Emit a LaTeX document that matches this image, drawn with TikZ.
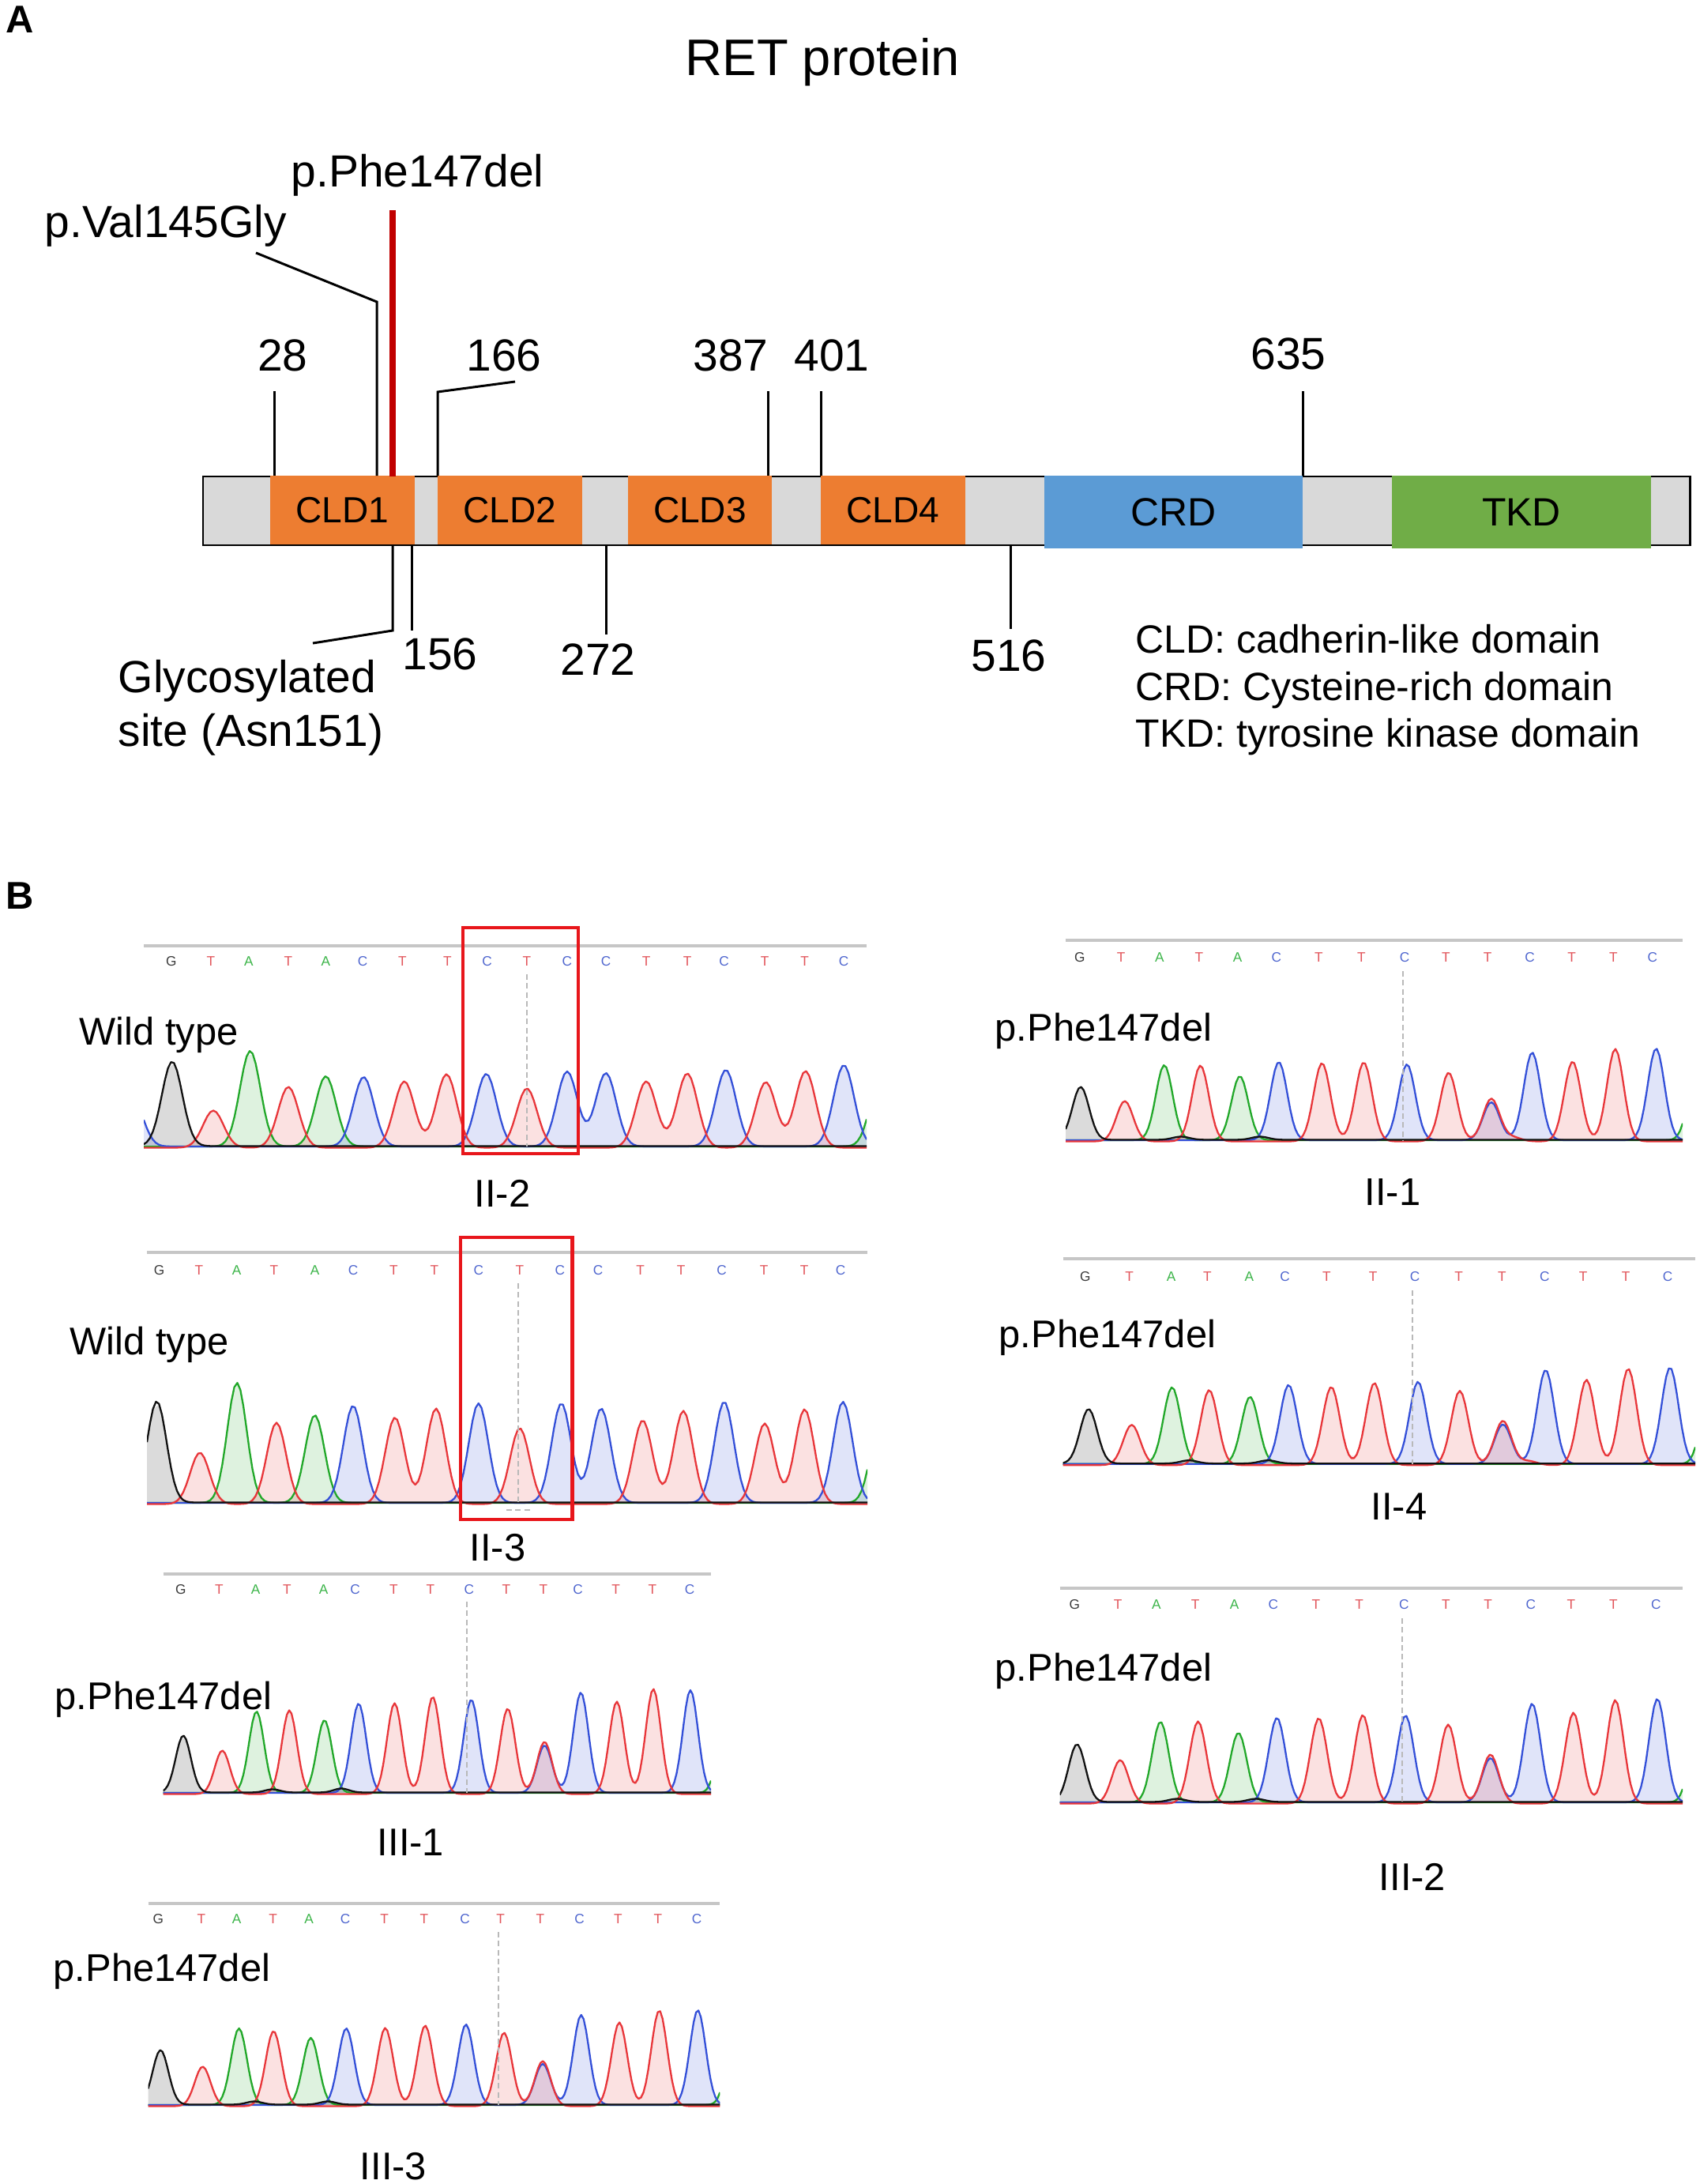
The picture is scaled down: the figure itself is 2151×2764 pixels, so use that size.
\documentclass[tikz,border=0pt]{standalone}
\usepackage{fontspec}
\setmainfont{Liberation Sans}
\definecolor{domorange}{HTML}{ED7D31}
\definecolor{domblue}{HTML}{5B9BD5}
\definecolor{domgreen}{HTML}{70AD47}
\definecolor{bargray}{HTML}{D9D9D9}
\definecolor{mutred}{HTML}{C00000}
\definecolor{boxred}{HTML}{E8161B}
\definecolor{colA}{HTML}{22A82A}
\definecolor{colC}{HTML}{3450D8}
\definecolor{colG}{HTML}{111111}
\definecolor{colT}{HTML}{E8363A}
\definecolor{letA}{HTML}{3DB54A}
\definecolor{letC}{HTML}{4F66CF}
\definecolor{letG}{HTML}{3A3A3A}
\definecolor{letT}{HTML}{E2545A}
\tikzset{
  lab/.style={font=\fontsize{16.2pt}{19pt}\selectfont, inner sep=0pt},
  ttl/.style={font=\fontsize{18.5pt}{22pt}\selectfont, inner sep=0pt, anchor=base west},
  dom/.style={font=\fontsize{13.1pt}{15pt}\selectfont, inner sep=0pt},
  domb/.style={font=\fontsize{14.2pt}{17pt}\selectfont, inner sep=0pt},
  leg/.style={font=\fontsize{14.2pt}{17pt}\selectfont, anchor=base west, inner sep=0pt},
  plab/.style={font=\bfseries\fontsize{13.9pt}{16pt}\selectfont, anchor=base west, inner sep=0pt},
  slab/.style={font=\fontsize{13.9pt}{16pt}\selectfont, anchor=base, inner sep=0pt},
  mlab/.style={font=\fontsize{13.9pt}{16pt}\selectfont, anchor=base west, inner sep=0pt},
  baselet/.style={font=\fontsize{4.9pt}{5pt}\selectfont, anchor=base, inner sep=0pt},
  topline/.style={draw=gray!45, line width=0.9pt},
  trace/.style={line width=0.65pt, line join=round},
  leader/.style={draw=black, line width=0.85pt},
  cursor/.style={draw=gray!55, line width=0.45pt, dash pattern=on 2pt off 1.2pt},
  redbox/.style={draw=boxred, line width=1.4pt}
}
\newcommand\chromo[8]{%
  \draw[topline] (#1,#3) -- (#2,#3);
  \foreach \lx/\lc in {#7}{\node[baselet, text=let\lc] at (\lx,#4) {\lc};}
  \gdef\trA{0}\gdef\trC{0}\gdef\trG{0}\gdef\trT{0}%
  \foreach \px/\ph/\pc in {#8}{%
    \expandafter\xdef\csname tr\pc\endcsname{\unexpanded\expandafter\expandafter\expandafter{\csname tr\pc\endcsname}+\ph*exp(-0.5*min(abs((\noexpand\x-\px)/#6),4.5)^2)}%
  }%
  \begin{scope}
    \clip (#1,#3) rectangle (#2,#5+8);
    \foreach \tc in {A,C,T,G}{%
      \expandafter\let\expandafter\curexpr\csname tr\tc\endcsname
      \fill[fill=col\tc, fill opacity=0.15] plot[domain=#1:#2, samples=120] (\x,{#5-(\curexpr)}) -- (#2,#5) -- (#1,#5) -- cycle;
    }
    \foreach \tc/\off in {A/0,C/0,T/1.5,G/-0.5}{%
      \expandafter\let\expandafter\curexpr\csname tr\tc\endcsname
      \draw[trace, draw=col\tc] plot[domain=#1:#2, samples=240] (\x,{#5+\off-(\curexpr)});
    }
  \end{scope}
}
\begin{document}
\begin{tikzpicture}[x=0.01cm, y=-0.01cm]
\useasboundingbox (0,0) rectangle (2151,2764);
\fill[white] (0,0) rectangle (2151,2764);

% ---------------- Panel A ----------------
\node[plab] (lblA) at (7,42) {A};
\node[ttl] (title) at (867,96) {RET protein};
\node[lab, anchor=base west] (phe) at (368,237) {p.Phe147del};
\node[lab, anchor=base west] (val) at (56,301) {p.Val145Gly};

% bar
\draw[line width=0.85pt, fill=bargray] (257,603) rectangle (2139,690);
\fill[domorange] (342,601.5) rectangle (525,688.5);
\fill[domorange] (554,601.5) rectangle (737,688.5);
\fill[domorange] (795,601.5) rectangle (977,688.5);
\fill[domorange] (1039,601.5) rectangle (1222,688.5);
\fill[domblue] (1322,601.5) rectangle (1649,694);
\fill[domgreen] (1762,601.5) rectangle (2090,694);
\node[dom] (cld1) at (433.5,646) {CLD1};
\node[dom] (cld2) at (645.5,646) {CLD2};
\node[dom] (cld3) at (886,646) {CLD3};
\node[dom] (cld4) at (1130.5,646) {CLD4};
\node[domb] (crd) at (1485.5,648) {CRD};
\node[domb] (tkd) at (1926,648) {TKD};

% upper ticks
\node[lab, anchor=base] (n28) at (358,469) {28};
\node[lab, anchor=base] (n166) at (638,469) {166};
\node[lab, anchor=base] (n387) at (925,469) {387};
\node[lab, anchor=base] (n401) at (1053,469) {401};
\node[lab, anchor=base] (n635) at (1631,467) {635};
\draw[leader] (347,495) -- (347,602);
\draw[leader] (324,320) -- (477,382) -- (477,602);
\draw[leader] (652,483) -- (554,496) -- (554,602);
\draw[leader] (972,495) -- (972,602);
\draw[leader] (1039,495) -- (1039,602);
\draw[leader] (1649,495) -- (1649,602);
\draw[draw=mutred, line width=2.3pt] (497,266) -- (497,603);

% lower ticks
\draw[leader] (497,691) -- (497,798) -- (396,814);
\draw[leader] (521,691) -- (521,798);
\draw[leader] (767,691) -- (767,803);
\draw[leader] (1279,691) -- (1279,796);
\node[lab, anchor=base] (n156) at (557,847) {156};
\node[lab, anchor=base] (n272) at (757,854) {272};
\node[lab, anchor=base] (n516) at (1277,849) {516};
\node[lab, anchor=base west] (gly1) at (149,876) {Glycosylated};
\node[lab, anchor=base west] (gly2) at (149,944) {site (Asn151)};

% legend
\node[leg] (leg1) at (1437,826) {CLD: cadherin-like domain};
\node[leg] (leg2) at (1437,886) {CRD: Cysteine-rich domain};
\node[leg] (leg3) at (1437,945) {TKD: tyrosine kinase domain};

% ---------------- Panel B ----------------
\node[plab] (lblB) at (7,1150) {B};

% II-2 wild type
\chromo{182}{1097}{1197}{1222}{1451}{13}{216.7/G,267/T,314.8/A,365/T,412.4/A,459/C,509.4/T,566.4/T,616.7/C,667/T,717.9/C,767/C,818/T,870/T,916.7/C,968/T,1018.5/T,1068/C}{168/60/C,217.9/107/G,270/47/T,316.7/121/A,365/77/T,412.4/89/A,460.3/88/C,511.8/84/T,565.2/93/T,615.5/92/C,667/75/T,717.9/95/C,767/93/C,818/84/T,870/94/T,918.8/97/C,969.4/83/T,1019.7/97/T,1068.2/103/C,1115/90/A}
\draw[cursor] (667,1233) -- (667,1451);
\node[mlab] (wt1) at (100,1322) {Wild type};
\node[slab] (s22) at (636,1527) {II-2};
\draw[redbox] (586,1174) rectangle (732,1460);

% II-3 wild type
\chromo{186}{1098}{1585}{1613}{1902}{12.3}{201.5/G,251.8/T,299.7/A,347/T,398.5/A,447/C,498.5/T,550/T,605.8/C,658/T,708.8/C,757/C,810.6/T,862/T,913.6/C,967/T,1018/T,1064/C}{198.5/128/G,253/65/T,300/152/A,350/103/T,398.5/111/A,447/123/C,500/109.5/T,552/121/T,605.8/126/C,658/96/T,710.6/126/C,761/119.5/C,813.6/106/T,865/118/T,916.7/128/C,968/102/T,1018.5/120/T,1067/128/C,1115/110/A}
\draw[cursor] (656,1624) -- (656,1902);
\draw[cursor] (641,1911) -- (671,1911);
\node[mlab] (wt2) at (88,1714) {Wild type};
\node[slab] (s23) at (630,1975) {II-3};
\draw[redbox] (583,1566) rectangle (724.5,1923);

% III-1
\chromo{206.5}{900}{1992}{2017}{2269}{9.6}{228.7/G,277.5/T,323.6/A,363.5/T,409.6/A,449.6/C,498.4/T,545/T,593.8/C,641/T,688/T,731.5/C,779.7/T,825.8/T,873/C}{232/72/G,281.4/55/T,324.7/103/A,366.3/106/T,410.7/92/A,454/113/C,499.5/115/T,547.8/123/T,596.6/118/C,642.7/108/T,689.3/66/T,689.3/60/C,735.3/127/C,780.8/117/T,827/133/T,874/130/C,918/90/A,345/4/G,432/5/G}
\draw[cursor] (591,2027) -- (591,2269);
\node[mlab] (m31) at (69,2163) {p.Phe147del};
\node[slab] (s31) at (520,2348) {III-1};

% III-3
\chromo{187.5}{911.4}{2409}{2434}{2664}{10}{200.4/G,254.8/T,299.7/A,345.7/T,391.2/A,437.2/C,486.6/T,537/T,588.7/C,633.6/T,684/T,733.5/C,782.3/T,832.8/T,882.2/C}{203.2/69/G,256.5/50/T,302.5/97/A,346.3/95/T,393.4/85/A,438.3/97/C,487.7/99/T,538.2/102/T,589.8/102/C,638/93/T,687/57/T,687/52/C,735.7/114/C,784/106/T,834.5/121/T,883.3/120/C,930/90/A,322/4/G,415/4/G}
\draw[cursor] (630.8,2445) -- (630.8,2664);
\node[mlab] (m33) at (67,2507) {p.Phe147del};
\node[slab] (s33) at (498,2758) {III-3};

% II-1
\chromo{1349}{2130}{1190}{1217}{1443}{10.6}{1366.9/G,1419/T,1467.9/A,1517.8/T,1566.6/A,1615.9/C,1669.4/T,1723.4/T,1778/C,1830.3/T,1883/T,1936.6/C,1989.5/T,2042.3/T,2091.7/C}{1368/67/G,1423.8/51/T,1473.8/95/A,1519.6/96/T,1569.5/81/A,1618.8/99/C,1673.5/99/T,1726.3/100/T,1781/96/C,1833.8/87/T,1887.8/54/T,1887.8/48/C,1939.5/111/C,1990.7/101/T,2044.7/117/T,2096.4/116/C,2148/90/A,1495/4/G,1595/4/G,1915/5/T}
\draw[cursor] (1776,1229) -- (1776,1443);
\node[mlab] (m21) at (1259,1317) {p.Phe147del};
\node[slab] (s21) at (1763,1525) {II-1};

% II-4
\chromo{1345.7}{2146}{1593}{1621}{1852.7}{10.8}{1373.9/G,1429.7/T,1482.6/A,1528.4/T,1581.3/A,1626.5/C,1679.3/T,1738/T,1791/C,1846.7/T,1901.4/T,1955.4/C,2004.2/T,2058.2/T,2111/C}{1378/69/G,1432.6/51/T,1483.7/97/A,1530.7/95/T,1582.4/85/A,1631.2/100/C,1685.2/99/T,1739.8/104/T,1795/104/C,1847.9/94/T,1902.5/56/T,1902.5/50/C,1956.6/119/C,2008.3/108/T,2061.1/122/T,2114/122/C,2165/100/A,1505/4/G,1605/4/G,1935/5/T}
\draw[cursor] (1788,1633) -- (1788,1853);
\node[mlab] (m24) at (1264,1705) {p.Phe147del};
\node[slab] (s24) at (1771,1923) {II-4};

% III-2
\chromo{1341.6}{2130}{2010}{2036}{2281}{10.6}{1360.4/G,1415/T,1463.8/A,1513/T,1562.5/A,1611.8/C,1665.8/T,1720.5/T,1777.4/C,1830.3/T,1883.7/T,1937.8/C,1988.9/T,2042.3/T,2096.4/C}{1363.3/73/G,1418/55/T,1469/102/A,1516.6/104/T,1567.7/88/A,1616.5/107/C,1669.4/108/T,1725.2/112/T,1779.2/110/C,1833.2/100/T,1886.7/62/T,1886.7/56/C,1939.5/125/C,1991.8/115/T,2044.7/131/T,2098/131/C,2150/100/A,1490/4/G,1590/4/G}
\draw[cursor] (1775,2048) -- (1775,2281);
\node[mlab] (m32) at (1259,2127) {p.Phe147del};
\node[slab] (s32) at (1788,2392) {III-2};
\end{tikzpicture}
\end{document}
